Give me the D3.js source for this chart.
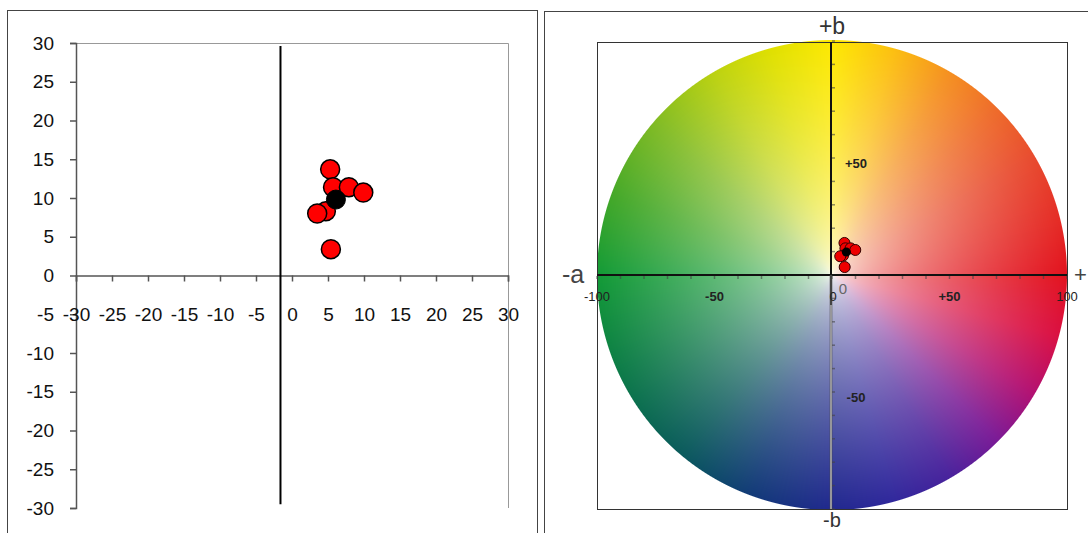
<!DOCTYPE html>
<html lang="en">
<head>
<meta charset="UTF-8">
<script src="https://d3js.org/d3.v7.min.js"></script>
<title>a*b* scatter</title>
<style>
  body { margin: 0; background: #fff; }
  text { font-family: "Liberation Sans", Arial, sans-serif; }
</style>
</head>
<body>
<div id="chart"></div>
<script>
// measured points (a*, b*) - red samples and the black mean
var sampleA = [5.3, 5.7, 7.9, 9.9, 4.7, 3.5, 5.4];
var sampleB = [13.7, 11.4, 11.4, 10.7, 8.3, 8.0, 3.4];
var meanA = [6.1];
var meanB = [9.8];

// the extra vertical line drawn on the left chart
var lineA = [-1.6, -1.6];
var lineB = [29.6, -29.5];

// tick values
var leftTicks = [-30, -25, -20, -15, -10, -5, 0, 5, 10, 15, 20, 25, 30];
var wheelTicksA = [-100, -50, 0, 50, 100];
var wheelTickLabelsA = ["-100", "-50", "0", "+50", "100"];
var wheelTicksB = [50, -50];
var wheelTickLabelsB = ["+50", "-50"];

// hue stops round the colour wheel (degrees, 0 = +a, 90 = +b)
var hueAngles = [0, 30, 45, 60, 75, 90, 105, 120, 140, 160, 180, 205, 230, 250, 270, 285, 300, 315, 330, 345, 360];
var hueColors = ["#e2121e", "#e84a2e", "#ee6a2a", "#f59020", "#fcc010", "#fde800", "#e0e000", "#bcd210", "#7eba24", "#44a828",
                 "#129a36", "#0c7a48", "#0a5a5c", "#123a78", "#20288e", "#30289c", "#48229c", "#7a1a96", "#b41070", "#da1042", "#e2121e"];

var W = 1088, H = 533;
var fontFam = "Liberation Sans, Arial, sans-serif";

var svg = d3.select("#chart").append("svg")
    .attr("width", W)
    .attr("height", H);

// ---------- left chart ----------
var x = d3.scaleLinear().domain([-30, 30]).range([76, 508]);
var y = d3.scaleLinear().domain([-30, 30]).range([508, 43]);

svg.append("rect")
    .attr("x", 7.5).attr("y", 10.5)
    .attr("width", 530).attr("height", 540)
    .attr("fill", "none").attr("stroke", "#444").attr("stroke-width", 1);

// plot frame (top and right)
svg.append("path")
    .attr("d", "M" + x(-30) + "," + (y(30) + 0.5) + "H" + (x(30) + 0.5) + "V" + y(-30))
    .attr("fill", "none").attr("stroke", "#999").attr("stroke-width", 1);

var plain = function(d) { return String(d); };

// y axis
var yAxis = svg.append("g")
    .attr("transform", "translate(" + x(-30) + ",0)")
    .call(d3.axisLeft(y).tickValues(leftTicks).tickFormat(plain).tickSize(6).tickPadding(16));
yAxis.selectAll("text").attr("font-size", 19).attr("fill", "#111").attr("font-family", fontFam);

// x axis through y = 0, labels down at the -5 level
var xAxis = svg.append("g")
    .attr("transform", "translate(0," + y(0) + ")")
    .call(d3.axisBottom(x).tickValues(leftTicks).tickFormat(plain).tickSize(6).tickPadding(26));
xAxis.selectAll("text").attr("font-size", 19).attr("fill", "#111").attr("font-family", fontFam);

svg.selectAll(".domain, .tick line").attr("stroke", "#555").attr("stroke-width", 1.5);

// black vertical line
svg.append("path")
    .datum(d3.zip(lineA, lineB))
    .attr("d", d3.line().x(function(d) { return x(d[0]); }).y(function(d) { return y(d[1]); }))
    .attr("stroke", "#000").attr("stroke-width", 2);

var samples = d3.zip(sampleA, sampleB);
var means = d3.zip(meanA, meanB);

svg.append("g").selectAll("circle")
    .data(samples)
    .join("circle")
    .attr("cx", function(d) { return x(d[0]); })
    .attr("cy", function(d) { return y(d[1]); })
    .attr("r", 9.5)
    .attr("fill", "#f00").attr("stroke", "#000").attr("stroke-width", 1.5);

svg.append("g").selectAll("circle")
    .data(means)
    .join("circle")
    .attr("cx", function(d) { return x(d[0]); })
    .attr("cy", function(d) { return y(d[1]); })
    .attr("r", 9.5)
    .attr("fill", "#000").attr("stroke", "#000");

// ---------- right chart (colour wheel) ----------
var xr = d3.scaleLinear().domain([-100, 100]).range([597, 1067]);
var yr = d3.scaleLinear().domain([-100, 100]).range([509, 41]);
var cx = xr(0), cy = yr(0), R = xr(100) - xr(0);

svg.append("rect")
    .attr("x", 544.5).attr("y", 11.5)
    .attr("width", 560).attr("height", 540)
    .attr("fill", "none").attr("stroke", "#444").attr("stroke-width", 1);

// paint the wheel on a canvas, then put it in the svg as an image
var hue = d3.scaleLinear().domain(hueAngles).range(hueColors).interpolate(d3.interpolateRgb);
var size = Math.ceil(2 * R) + 2;
var canvas = document.createElement("canvas");
canvas.width = size; canvas.height = size;
var ctx = canvas.getContext("2d");
var img = ctx.createImageData(size, size);
var half = size / 2;
for (var j = 0; j < size; j++) {
  for (var i = 0; i < size; i++) {
    var dx = i + 0.5 - half, dy = half - (j + 0.5);
    var r = Math.sqrt(dx * dx + dy * dy);
    if (r > R + 1) continue;
    var ang = Math.atan2(dy, dx) * 180 / Math.PI;
    if (ang < 0) ang += 360;
    var t = Math.pow(Math.min(r / R, 1), 0.55);
    var c = d3.rgb(d3.interpolateRgb("#fdfdf6", hue(ang))(t));
    var k = (j * size + i) * 4;
    img.data[k] = c.r; img.data[k + 1] = c.g; img.data[k + 2] = c.b;
    img.data[k + 3] = Math.round(255 * Math.max(0, Math.min(1, R - r + 0.5)));
  }
}
ctx.putImageData(img, 0, 0);

svg.append("image")
    .attr("x", cx - half).attr("y", cy - half)
    .attr("width", size).attr("height", size)
    .attr("href", canvas.toDataURL());

// frame
svg.append("rect")
    .attr("x", xr(-100) + 0.5).attr("y", yr(100) + 1.5)
    .attr("width", xr(100) - xr(-100)).attr("height", yr(-100) - yr(100) - 1)
    .attr("fill", "none").attr("stroke", "#333").attr("stroke-width", 1);

// minor ticks every 10
var minor = d3.range(-100, 101, 10);
svg.append("g").selectAll("line")
    .data(minor)
    .join("line")
    .attr("x1", function(d) { return xr(d); }).attr("x2", function(d) { return xr(d); })
    .attr("y1", cy + 1).attr("y2", cy + 4)
    .attr("stroke", "#444").attr("stroke-width", 1.5).attr("opacity", 0.6);
svg.append("g").selectAll("line")
    .data(minor)
    .join("line")
    .attr("x1", cx).attr("x2", cx + 3)
    .attr("y1", function(d) { return yr(d); }).attr("y2", function(d) { return yr(d); })
    .attr("stroke", "#444").attr("stroke-width", 1.5).attr("opacity", 0.6);

// axes
svg.append("line")
    .attr("x1", xr(-100)).attr("x2", xr(100)).attr("y1", cy).attr("y2", cy)
    .attr("stroke", "#111").attr("stroke-width", 2);
svg.append("line")
    .attr("x1", cx - 1).attr("x2", cx - 1).attr("y1", yr(100) + 1).attr("y2", cy)
    .attr("stroke", "#111").attr("stroke-width", 2);
svg.append("line")
    .attr("x1", cx - 1).attr("x2", cx - 1).attr("y1", cy).attr("y2", yr(-100))
    .attr("stroke", "#444").attr("stroke-width", 2.5);
svg.append("line")
    .attr("x1", cx - 1).attr("x2", cx - 1).attr("y1", cy + 30).attr("y2", yr(-100))
    .attr("stroke", "#e8e8f0").attr("stroke-width", 1);

// tick labels
svg.append("g").selectAll("text")
    .data(wheelTicksA)
    .join("text")
    .attr("x", function(d) { return xr(d) + (d === 0 ? 1 : 0); })
    .attr("y", cy + 26)
    .attr("text-anchor", "middle")
    .attr("font-size", 13)
    .attr("font-weight", function(d) { return Math.abs(d) === 50 ? "bold" : "normal"; })
    .attr("fill", "#222")
    .text(function(d, i) { return wheelTickLabelsA[i]; });

svg.append("g").selectAll("text")
    .data(wheelTicksB)
    .join("text")
    .attr("x", cx + 24)
    .attr("y", function(d) { return yr(d) + 10; })
    .attr("text-anchor", "middle")
    .attr("font-size", 13)
    .attr("font-weight", "bold")
    .attr("fill", "#222")
    .text(function(d, i) { return wheelTickLabelsB[i]; });

svg.append("text")
    .attr("x", cx + 11).attr("y", cy + 19)
    .attr("text-anchor", "middle")
    .attr("font-size", 15)
    .attr("fill", "#666")
    .text("0");

// axis names
svg.append("text").attr("x", cx).attr("y", 34).attr("text-anchor", "middle")
    .attr("font-size", 23).attr("fill", "#333").text("+b");
svg.append("text").attr("x", cx).attr("y", 527).attr("text-anchor", "middle")
    .attr("font-size", 20).attr("fill", "#333").text("-b");
svg.append("text").attr("x", 573).attr("y", cy + 8).attr("text-anchor", "middle")
    .attr("font-size", 25).attr("fill", "#444").text("-a");
svg.append("text").attr("x", 1074).attr("y", cy + 7).attr("text-anchor", "start")
    .attr("font-size", 22).attr("fill", "#444").text("+");

// the same points on the wheel
svg.append("g").selectAll("circle")
    .data(samples)
    .join("circle")
    .attr("cx", function(d) { return xr(d[0]); })
    .attr("cy", function(d) { return yr(d[1]); })
    .attr("r", 5.5)
    .attr("fill", "#e00").attr("stroke", "#300").attr("stroke-width", 1);

svg.append("g").selectAll("circle")
    .data(means)
    .join("circle")
    .attr("cx", function(d) { return xr(d[0]); })
    .attr("cy", function(d) { return yr(d[1]); })
    .attr("r", 4.5)
    .attr("fill", "#000");
</script>
</body>
</html>
